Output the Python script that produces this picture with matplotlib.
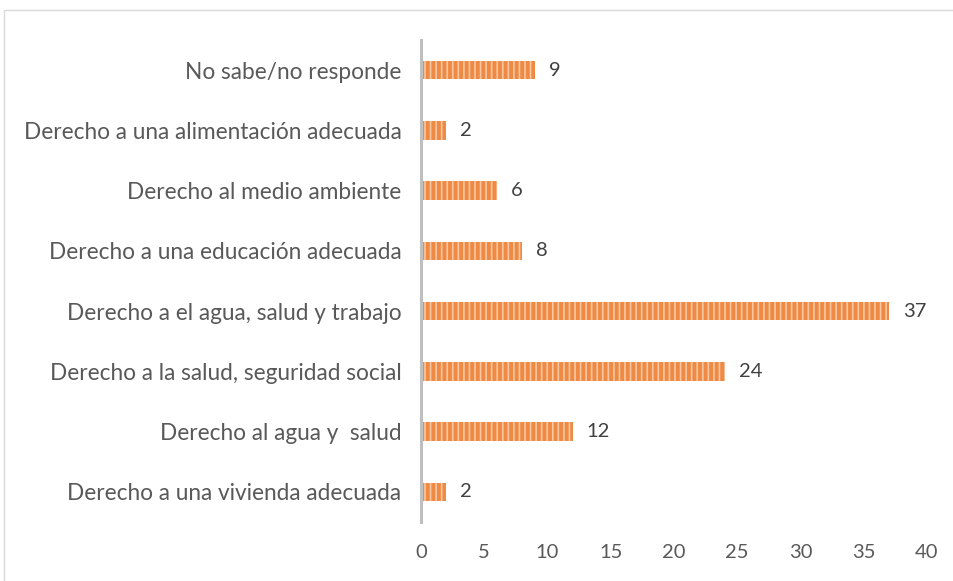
import matplotlib
matplotlib.use('Agg')
import matplotlib.pyplot as plt
from matplotlib.patches import Rectangle

categories = [
    'Derecho a una vivienda adecuada',
    'Derecho al agua y  salud',
    'Derecho a la salud, seguridad social',
    'Derecho a el agua, salud y trabajo',
    'Derecho a una educación adecuada',
    'Derecho al medio ambiente',
    'Derecho a una alimentación adecuada',
    'No sabe/no responde',
]
values = [2, 12, 24, 37, 8, 6, 2, 9]
xticks = [0, 5, 10, 15, 20, 25, 30, 35, 40]

plt.rcParams['font.family'] = ['Lato', 'DejaVu Sans']
plt.rcParams['hatch.linewidth'] = 1.2

W, H = 954, 581
fig = plt.figure(figsize=(W / 100, H / 100), dpi=100)
# plot area in pixels: x 421..927, y 40..522
ax = fig.add_axes([421 / W, 1 - 522 / H, (927 - 421) / W, (522 - 40) / H])

y = list(range(len(categories)))
bars = ax.barh(y, values, height=0.31, color='#EF8A45', edgecolor='#F8C7A2',
               linewidth=0, hatch='|||')

for yi, v in zip(y, values):
    ax.text(v + 1.1, yi, str(v), va='center', ha='left', fontsize=14.5, color='#404040')

ax.set_xlim(0, 40)
ax.set_ylim(-0.5, len(categories) - 0.5)
ax.set_yticks(y)
ax.set_yticklabels(categories, fontsize=16.3, color='#595959')
ax.set_xticks(xticks)
ax.set_xticklabels([str(t) for t in xticks], fontsize=14.5, color='#595959')
ax.tick_params(axis='both', length=0)
ax.tick_params(axis='y', pad=14)
ax.tick_params(axis='x', pad=16)

for side in ['top', 'right', 'bottom']:
    ax.spines[side].set_visible(False)
ax.spines['left'].set_color('#BFBFBF')
ax.spines['left'].set_linewidth(2.2)

# outer chart frame
frame = Rectangle((4 / W, -0.05), 1.2, 1 - 10 / H + 0.05, transform=fig.transFigure,
                  fill=False, edgecolor='#D9D9D9', linewidth=1.0)
fig.add_artist(frame)

fig.savefig('out.png', dpi=100)
